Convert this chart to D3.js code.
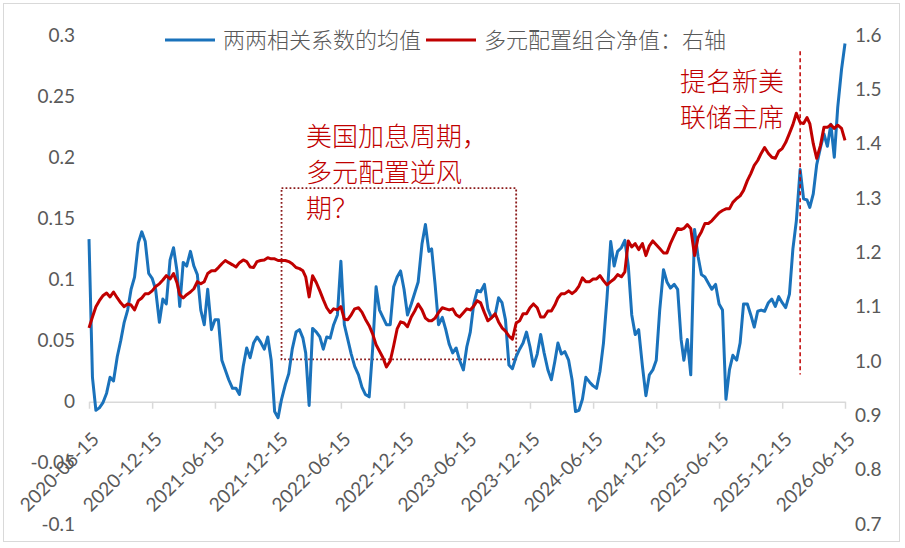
<!DOCTYPE html>
<html>
<head>
<meta charset="utf-8">
<script src="https://cdn.jsdelivr.net/npm/d3@7"></script>
<style>
  body { margin: 0; background: #fff; }
  svg { display: block; }
</style>
</head>
<body>
<script>
// sampling dates (5th / 15th / 25th of each month)
const dates = [
  "2020-06-15","2020-06-25",
  "2020-07-05","2020-07-15","2020-07-25","2020-08-05","2020-08-15","2020-08-25",
  "2020-09-05","2020-09-15","2020-09-25","2020-10-05","2020-10-15","2020-10-25",
  "2020-11-05","2020-11-15","2020-11-25","2020-12-05","2020-12-15","2020-12-25",
  "2021-01-05","2021-01-15","2021-01-25","2021-02-05","2021-02-15","2021-02-25",
  "2021-03-05","2021-03-15","2021-03-25","2021-04-05","2021-04-15","2021-04-25",
  "2021-05-05","2021-05-15","2021-05-25","2021-06-05","2021-06-15","2021-06-25",
  "2021-07-05","2021-07-15","2021-07-25","2021-08-05","2021-08-15","2021-08-25",
  "2021-09-05","2021-09-15","2021-09-25","2021-10-05","2021-10-15","2021-10-25",
  "2021-11-05","2021-11-15","2021-11-25","2021-12-05","2021-12-15","2021-12-25",
  "2022-01-05","2022-01-15","2022-01-25","2022-02-05","2022-02-15","2022-02-25",
  "2022-03-05","2022-03-15","2022-03-25","2022-04-05","2022-04-15","2022-04-25",
  "2022-05-05","2022-05-15","2022-05-25","2022-06-05","2022-06-15","2022-06-25",
  "2022-07-05","2022-07-15","2022-07-25","2022-08-05","2022-08-15","2022-08-25",
  "2022-09-05","2022-09-15","2022-09-25","2022-10-05","2022-10-15","2022-10-25",
  "2022-11-05","2022-11-15","2022-11-25","2022-12-05","2022-12-15","2022-12-25",
  "2023-01-05","2023-01-15","2023-01-25","2023-02-05","2023-02-15","2023-02-25",
  "2023-03-05","2023-03-15","2023-03-25","2023-04-05","2023-04-15","2023-04-25",
  "2023-05-05","2023-05-15","2023-05-25","2023-06-05","2023-06-15","2023-06-25",
  "2023-07-05","2023-07-15","2023-07-25","2023-08-05","2023-08-15","2023-08-25",
  "2023-09-05","2023-09-15","2023-09-25","2023-10-05","2023-10-15","2023-10-25",
  "2023-11-05","2023-11-15","2023-11-25","2023-12-05","2023-12-15","2023-12-25",
  "2024-01-05","2024-01-15","2024-01-25","2024-02-05","2024-02-15","2024-02-25",
  "2024-03-05","2024-03-15","2024-03-25","2024-04-05","2024-04-15","2024-04-25",
  "2024-05-05","2024-05-15","2024-05-25","2024-06-05","2024-06-15","2024-06-25",
  "2024-07-05","2024-07-15","2024-07-25","2024-08-05","2024-08-15","2024-08-25",
  "2024-09-05","2024-09-15","2024-09-25","2024-10-05","2024-10-15","2024-10-25",
  "2024-11-05","2024-11-15","2024-11-25","2024-12-05","2024-12-15","2024-12-25",
  "2025-01-05","2025-01-15","2025-01-25","2025-02-05","2025-02-15","2025-02-25",
  "2025-03-05","2025-03-15","2025-03-25","2025-04-05","2025-04-15","2025-04-25",
  "2025-05-05","2025-05-15","2025-05-25","2025-06-05","2025-06-15","2025-06-25",
  "2025-07-05","2025-07-15","2025-07-25","2025-08-05","2025-08-15","2025-08-25",
  "2025-09-05","2025-09-15","2025-09-25","2025-10-05","2025-10-15","2025-10-25",
  "2025-11-05","2025-11-15","2025-11-25","2025-12-05","2025-12-15","2025-12-25",
  "2026-01-05","2026-01-15","2026-01-25","2026-02-05","2026-02-15","2026-02-25",
  "2026-03-05","2026-03-15","2026-03-25","2026-04-05","2026-04-15","2026-04-25",
  "2026-05-05","2026-05-15","2026-05-25","2026-06-05","2026-06-15"
];

// 两两相关系数的均值 (left axis)
const corrMean = [
  0.133, 0.020, -0.007, -0.005, -0.001, 0.007, 0.020, 0.017, 0.037, 0.050,
  0.065, 0.075, 0.092, 0.102, 0.130, 0.139, 0.131, 0.105, 0.101, 0.092,
  0.065, 0.084, 0.080, 0.116, 0.126, 0.107, 0.078, 0.114, 0.111, 0.123,
  0.111, 0.104, 0.075, 0.063, 0.092, 0.059, 0.067, 0.067, 0.034, 0.026,
  0.018, 0.011, 0.011, 0.006, 0.029, 0.044, 0.036, 0.048, 0.053, 0.049,
  0.043, 0.053, 0.034, -0.008, -0.013, 0.002, 0.014, 0.023, 0.043, 0.057,
  0.059, 0.052, 0.040, -0.003, 0.060, 0.057, 0.053, 0.043, 0.053, 0.052,
  0.063, 0.071, 0.115, 0.063, 0.051, 0.039, 0.029, 0.022, 0.012, 0.006,
  0.004, 0.043, 0.094, 0.075, 0.069, 0.063, 0.063, 0.094, 0.102, 0.107,
  0.092, 0.071, 0.080, 0.089, 0.098, 0.129, 0.145, 0.123, 0.125, 0.096,
  0.063, 0.069, 0.059, 0.047, 0.040, 0.044, 0.034, 0.026, 0.045, 0.057,
  0.080, 0.091, 0.090, 0.096, 0.076, 0.069, 0.071, 0.085, 0.081, 0.067,
  0.030, 0.027, 0.037, 0.043, 0.048, 0.057, 0.045, 0.029, 0.039, 0.055,
  0.040, 0.026, 0.018, 0.033, 0.048, 0.039, 0.041, 0.034, 0.018, -0.008,
  -0.007, 0.002, 0.020, 0.016, 0.013, 0.011, 0.025, 0.048, 0.084, 0.131,
  0.111, 0.123, 0.126, 0.132, 0.111, 0.071, 0.055, 0.059, 0.029, 0.005,
  0.022, 0.026, 0.034, 0.075, 0.108, 0.098, 0.093, 0.096, 0.092, 0.051,
  0.034, 0.051, 0.022, 0.141, 0.119, 0.104, 0.102, 0.097, 0.092, 0.096,
  0.080, 0.075, 0.002, 0.026, 0.038, 0.034, 0.048, 0.080, 0.080, 0.071,
  0.061, 0.074, 0.075, 0.074, 0.081, 0.084, 0.078, 0.086, 0.081, 0.077,
  0.088, 0.125, 0.148, 0.190, 0.166, 0.165, 0.159, 0.170, 0.194, 0.208,
  0.219, 0.209, 0.227, 0.200, 0.241, 0.272, 0.293
];

// 多元配置组合净值 (right axis)
const navValue = [
  1.061, 1.081, 1.100, 1.111, 1.120, 1.125, 1.118, 1.127, 1.116, 1.107,
  1.100, 1.105, 1.103, 1.094, 1.111, 1.116, 1.124, 1.124, 1.129, 1.137,
  1.142, 1.149, 1.157, 1.151, 1.161, 1.144, 1.122, 1.116, 1.122, 1.127,
  1.133, 1.146, 1.142, 1.146, 1.161, 1.166, 1.166, 1.172, 1.179, 1.185,
  1.181, 1.177, 1.173, 1.181, 1.186, 1.183, 1.173, 1.172, 1.183, 1.185,
  1.186, 1.190, 1.188, 1.188, 1.185, 1.185, 1.185, 1.183, 1.179, 1.172,
  1.170, 1.166, 1.155, 1.118, 1.157, 1.144, 1.129, 1.113, 1.098, 1.089,
  1.096, 1.094, 1.100, 1.077, 1.076, 1.085, 1.096, 1.098, 1.090, 1.077,
  1.065, 1.050, 1.030, 1.018, 1.006, 0.989, 1.000, 1.028, 1.059, 1.072,
  1.070, 1.063, 1.081, 1.092, 1.105, 1.094, 1.079, 1.074, 1.074, 1.079,
  1.089, 1.098, 1.096, 1.094, 1.096, 1.085, 1.081, 1.089, 1.096, 1.094,
  1.101, 1.111, 1.107, 1.089, 1.074, 1.079, 1.087, 1.072, 1.061, 1.055,
  1.046, 1.040, 1.070, 1.074, 1.087, 1.087, 1.098, 1.105, 1.098, 1.081,
  1.081, 1.092, 1.092, 1.103, 1.116, 1.124, 1.124, 1.129, 1.124, 1.129,
  1.138, 1.153, 1.146, 1.146, 1.151, 1.151, 1.157, 1.148, 1.140, 1.146,
  1.151, 1.159, 1.155, 1.164, 1.221, 1.210, 1.216, 1.205, 1.216, 1.194,
  1.212, 1.221, 1.214, 1.207, 1.199, 1.199, 1.216, 1.231, 1.244, 1.242,
  1.244, 1.251, 1.244, 1.194, 1.227, 1.238, 1.253, 1.253, 1.258, 1.266,
  1.273, 1.277, 1.280, 1.280, 1.292, 1.299, 1.304, 1.314, 1.332, 1.345,
  1.360, 1.369, 1.382, 1.393, 1.382, 1.375, 1.373, 1.386, 1.391, 1.402,
  1.419, 1.435, 1.456, 1.439, 1.437, 1.448, 1.437, 1.400, 1.373, 1.397,
  1.430, 1.430, 1.435, 1.428, 1.434, 1.428, 1.406
];

const xTicks = [
  "2020-06-15","2020-12-15","2021-06-15","2021-12-15","2022-06-15","2022-12-15",
  "2023-06-15","2023-12-15","2024-06-15","2024-12-15","2025-06-15","2025-12-15","2026-06-15"
];
const leftTicks = [-0.1, -0.05, 0, 0.05, 0.1, 0.15, 0.2, 0.25, 0.3];
const rightTicks = [0.7, 0.8, 0.9, 1.0, 1.1, 1.2, 1.3, 1.4, 1.5, 1.6];

const seriesNames = ["两两相关系数的均值", "多元配置组合净值：右轴"];
const noteHike = ["美国加息周期，", "多元配置逆风", "期？"];
const noteHikeRange = ["2021-12-25", "2023-11-05"];
const noteFed = ["提名新美", "联储主席"];
const fedDate = "2026-02-05";

const width = 905, height = 548;
const margin = { top: 35, right: 60, bottom: 24, left: 89 };
const blue = "#1a72bb", red = "#c00000", grey = "#595959";
const latin = "Lato, 'Liberation Sans', sans-serif";
const cjk = "'Noto Sans CJK SC', 'Noto Sans', sans-serif";

const parse = d3.timeParse("%Y-%m-%d");
const rows = dates.map((d, i) => ({ date: parse(d), corr: corrMean[i], nav: navValue[i] }));

const x = d3.scaleTime()
  .domain([parse(xTicks[0]), parse(xTicks[xTicks.length - 1])])
  .range([margin.left, width - margin.right]);

const yL = d3.scaleLinear()
  .domain([-0.1, 0.3])
  .range([height - margin.bottom, margin.top]);

const yR = d3.scaleLinear()
  .domain([0.7, 1.6])
  .range([height - margin.bottom, margin.top]);

const svg = d3.create("svg")
  .attr("width", width)
  .attr("height", height);

// chart border
svg.append("rect")
  .attr("x", 3.5).attr("y", 3.5)
  .attr("width", width - 9).attr("height", height - 10)
  .attr("fill", "none")
  .attr("stroke", "#d9d9d9");

// x axis sits on left-axis zero
const gx = svg.append("g")
  .attr("transform", `translate(0,${yL(0)})`)
  .call(d3.axisBottom(x)
    .tickValues(xTicks.map(parse))
    .tickFormat(d3.timeFormat("%Y-%m-%d"))
    .tickSize(7)
    .tickSizeOuter(0));
gx.select(".domain").attr("stroke", "#d9d9d9").attr("stroke-width", 1.5);
gx.selectAll(".tick line").attr("stroke", "#d9d9d9").attr("stroke-width", 1.5);
gx.selectAll(".tick text")
  .attr("x", 0).attr("y", 0).attr("dy", "0.35em")
  .attr("text-anchor", "end")
  .attr("transform", "translate(6,34) rotate(-45)")
  .attr("fill", grey)
  .style("font", `19px ${latin}`);

// left axis
const gl = svg.append("g")
  .attr("transform", `translate(${margin.left - 14},0)`)
  .call(d3.axisLeft(yL).tickValues(leftTicks).tickFormat(d => String(d)).tickSize(0));
gl.select(".domain").remove();
gl.selectAll(".tick text").attr("x", 0).attr("fill", grey).style("font", `19px ${latin}`);

// right axis
const gr = svg.append("g")
  .attr("transform", `translate(${width - margin.right + 10},0)`)
  .call(d3.axisRight(yR).tickValues(rightTicks).tickFormat(d3.format(".1f")).tickSize(0));
gr.select(".domain").remove();
gr.selectAll(".tick text").attr("x", 0).attr("fill", grey).style("font", `19px ${latin}`);

// annotation box
const boxTop = yR(1.318), boxBottom = yR(1.003);
svg.append("rect")
  .attr("x", x(parse(noteHikeRange[0])))
  .attr("y", boxTop)
  .attr("width", x(parse(noteHikeRange[1])) - x(parse(noteHikeRange[0])))
  .attr("height", boxBottom - boxTop)
  .attr("fill", "none")
  .attr("stroke", "#8b1a1a")
  .attr("stroke-width", 1.8)
  .attr("stroke-dasharray", "1.8,2.2");

// series
const corrLine = d3.line().x(d => x(d.date)).y(d => yL(d.corr));
const navLine = d3.line().x(d => x(d.date)).y(d => yR(d.nav));

svg.append("path")
  .attr("d", corrLine(rows))
  .attr("fill", "none")
  .attr("stroke", blue)
  .attr("stroke-width", 3)
  .attr("stroke-linejoin", "round");

svg.append("path")
  .attr("d", navLine(rows))
  .attr("fill", "none")
  .attr("stroke", red)
  .attr("stroke-width", 3)
  .attr("stroke-linejoin", "round");

// vertical marker
svg.append("line")
  .attr("x1", x(parse(fedDate))).attr("x2", x(parse(fedDate)))
  .attr("y1", yR(1.57)).attr("y2", yR(0.975))
  .attr("stroke", red)
  .attr("stroke-width", 1.5)
  .attr("stroke-dasharray", "4,3");

// annotation texts
svg.append("text")
  .attr("fill", red)
  .style("font", `300 26px ${cjk}`)
  .selectAll("tspan")
  .data(noteHike)
  .join("tspan")
  .attr("x", 306)
  .attr("y", (d, i) => 137 + i * 36)
  .attr("dy", "0.35em")
  .text(d => d);

svg.append("text")
  .attr("fill", red)
  .style("font", `300 26px ${cjk}`)
  .selectAll("tspan")
  .data(noteFed)
  .join("tspan")
  .attr("x", 680)
  .attr("y", (d, i) => 82 + i * 36)
  .attr("dy", "0.35em")
  .text(d => d);

// legend
const legend = svg.append("g").attr("transform", "translate(165,40)");
const legendX = [0, 261];
const legendColors = [blue, red];
seriesNames.forEach((name, i) => {
  const g = legend.append("g").attr("transform", `translate(${legendX[i]},0)`);
  g.append("line").attr("x1", 0).attr("x2", 50).attr("stroke", legendColors[i]).attr("stroke-width", 3);
  g.append("text")
    .attr("x", 58).attr("dy", "0.35em")
    .attr("fill", grey)
    .style("font", `300 22px ${cjk}`)
    .text(name);
});

document.body.appendChild(svg.node());
</script>
</body>
</html>
